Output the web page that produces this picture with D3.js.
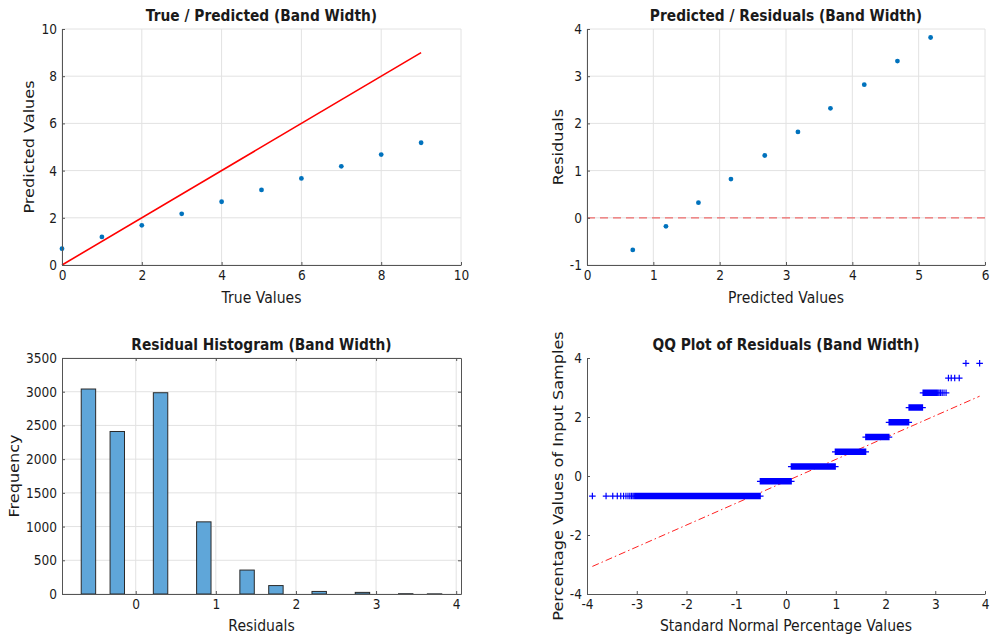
<!DOCTYPE html>
<html><head><meta charset="utf-8">
<script src="https://cdn.jsdelivr.net/npm/d3@7"></script>
<style>
body{margin:0;background:#fff}
svg text{font-family:"DejaVu Sans",sans-serif;fill:#1a1a1a;transform-box:fill-box;transform-origin:center;transform:scaleY(1.15)}
svg text.rot{transform:scaleX(1.15)}
</style></head><body><svg id="c" width="992" height="637"></svg>
<script>
// ---- data ----
const trueValues=[0,1,2,3,4,5,6,7,8,9];
const predictedValues=[0.69,1.19,1.68,2.17,2.68,3.18,3.67,4.18,4.68,5.18];
const residualValues=[-0.68,-0.18,0.32,0.82,1.32,1.82,2.32,2.82,3.32,3.82];
const residualLevels=[-0.68,-0.18,0.32,0.82,1.32,1.82,2.32,2.82,3.32,3.82];
const residualCounts=[3040,2410,2985,1070,355,125,38,24,4,2];
const histBins=25;
const p1Ticks=[0,2,4,6,8,10];
const p2XTicks=[0,1,2,3,4,5,6];
const p2YTicks=[-1,0,1,2,3,4];
const p3XTicks=[0,1,2,3,4];
const p3YTicks=[0,500,1000,1500,2000,2500,3000,3500];
const p4XTicks=[-4,-3,-2,-1,0,1,2,3,4];
const p4YTicks=[-4,-2,0,2,4];

const svg=d3.select("#c");
const fmt=d=>String(d);

function panel(o){
  const g=svg.append("g");
  const x=d3.scaleLinear().domain(o.xd).range([o.l,o.r]);
  const y=d3.scaleLinear().domain(o.yd).range([o.b,o.t]);
  if(o.grid){
    g.append("g").selectAll("line").data(o.xt).join("line")
      .attr("x1",d=>x(d)).attr("x2",d=>x(d)).attr("y1",o.t).attr("y2",o.b)
      .attr("stroke","#e2e2e2").attr("stroke-width",1);
    g.append("g").selectAll("line").data(o.yt).join("line")
      .attr("y1",d=>y(d)).attr("y2",d=>y(d)).attr("x1",o.l).attr("x2",o.r)
      .attr("stroke","#e2e2e2").attr("stroke-width",1);
  }
  const plot=g.append("g");
  g.append("g").attr("transform",`translate(0,${o.b})`)
    .call(d3.axisBottom(x).tickValues(o.xt).tickFormat(fmt).tickSize(-3).tickSizeOuter(0).tickPadding(6));
  g.append("g").attr("transform",`translate(${o.l},0)`)
    .call(d3.axisLeft(y).tickValues(o.yt).tickFormat(fmt).tickSize(-3).tickSizeOuter(0).tickPadding(5));
  if(o.box){
    g.append("g").attr("transform",`translate(0,${o.t})`)
      .call(d3.axisTop(x).tickValues(o.xt).tickFormat("").tickSize(-3).tickSizeOuter(0));
    g.append("g").attr("transform",`translate(${o.r},0)`)
      .call(d3.axisRight(y).tickValues(o.yt).tickFormat("").tickSize(-3).tickSizeOuter(0));
  }
  g.selectAll(".domain").attr("stroke","#555");
  g.selectAll(".tick line").attr("stroke","#555");
  g.selectAll(".tick text").attr("font-size",12.2).attr("fill","#1a1a1a");
  const cx=(o.l+o.r)/2, cy=(o.t+o.b)/2;
  g.append("text").attr("x",cx).attr("y",o.titleY).attr("text-anchor","middle")
    .attr("dominant-baseline","central").attr("font-size",13.8).attr("font-weight","bold").text(o.title);
  g.append("text").attr("x",cx).attr("y",o.xlY).attr("text-anchor","middle")
    .attr("dominant-baseline","central").attr("font-size",14).text(o.xl);
  g.append("g").attr("transform",`translate(${o.ylX},${cy}) rotate(-90)`)
    .append("text").attr("class","rot").attr("text-anchor","middle").attr("dominant-baseline","central")
    .attr("font-size",14).text(o.yl);
  return {x,y,plot};
}

// Panel 1
{
  const p=panel({l:62,r:461,t:29,b:265,xd:[0,10],yd:[0,10],xt:p1Ticks,yt:p1Ticks,grid:true,
    title:"True / Predicted (Band Width)",titleY:16,xl:"True Values",xlY:298,yl:"Predicted Values",ylX:29});
  const ext=d3.extent(trueValues);
  p.plot.append("line").attr("x1",p.x(ext[0])).attr("y1",p.y(ext[0])).attr("x2",p.x(ext[1])).attr("y2",p.y(ext[1]))
    .attr("stroke","#ff0000").attr("stroke-width",1.6);
  p.plot.selectAll("circle").data(trueValues).join("circle")
    .attr("cx",d=>p.x(d)).attr("cy",(d,i)=>p.y(predictedValues[i])).attr("r",2.4).attr("fill","#0072bd");
}
// Panel 2
{
  const p=panel({l:587,r:985,t:29,b:265,xd:[0,6],yd:[-1,4],xt:p2XTicks,yt:p2YTicks,grid:true,
    title:"Predicted / Residuals (Band Width)",titleY:16,xl:"Predicted Values",xlY:298,yl:"Residuals",ylX:558});
  p.plot.append("line").attr("x1",p.x(0)).attr("x2",p.x(6)).attr("y1",p.y(0)).attr("y2",p.y(0))
    .attr("stroke","#ee6a6a").attr("stroke-width",1.2).attr("stroke-dasharray","8,5");
  p.plot.selectAll("circle").data(predictedValues).join("circle")
    .attr("cx",d=>p.x(d)).attr("cy",(d,i)=>p.y(residualValues[i])).attr("r",2.4).attr("fill","#0072bd");
}
// expanded sample
const sample=[];
residualLevels.forEach((v,i)=>{for(let k=0;k<residualCounts[i];k++)sample.push(v);});
sample.sort((a,b)=>a-b);
// Panel 3
{
  const p=panel({l:62,r:461,t:358,b:594,xd:[-0.92,4.06],yd:[0,3500],xt:p3XTicks,yt:p3YTicks,grid:true,box:true,
    title:"Residual Histogram (Band Width)",titleY:345,xl:"Residuals",xlY:626,yl:"Frequency",ylX:14});
  const mn=d3.min(sample), mx=d3.max(sample), w=(mx-mn)/histBins;
  const edges=d3.range(1,histBins).map(k=>mn+k*w);
  const bins=d3.bin().domain([mn,mx]).thresholds(edges)(sample).filter(b=>b.length>0);
  p.plot.selectAll("rect").data(bins).join("rect")
    .attr("x",d=>p.x(d.x0)).attr("width",d=>p.x(d.x1)-p.x(d.x0))
    .attr("y",d=>p.y(d.length)).attr("height",d=>p.y(0)-p.y(d.length))
    .attr("fill","#5fa6d9").attr("stroke","#2a2a2a").attr("stroke-width",1);
}
// inverse normal CDF (Acklam)
function norminv(p){
  const a=[-3.969683028665376e+01,2.209460984245205e+02,-2.759285104469687e+02,1.383577518672690e+02,-3.066479806614716e+01,2.506628277459239e+00];
  const b=[-5.447609879822406e+01,1.615858368580409e+02,-1.556989798598866e+02,6.680131188771972e+01,-1.328068155288572e+01];
  const c=[-7.784894002430293e-03,-3.223964580411365e-01,-2.400758277161838e+00,-2.549732539343734e+00,4.374664141464968e+00,2.938163982698783e+00];
  const d=[7.784695709041462e-03,3.224671290700398e-01,2.445134137142996e+00,3.754408661907416e+00];
  const pl=0.02425;let q,r;
  if(p<pl){q=Math.sqrt(-2*Math.log(p));return (((((c[0]*q+c[1])*q+c[2])*q+c[3])*q+c[4])*q+c[5])/((((d[0]*q+d[1])*q+d[2])*q+d[3])*q+1);}
  if(p>1-pl){q=Math.sqrt(-2*Math.log(1-p));return -(((((c[0]*q+c[1])*q+c[2])*q+c[3])*q+c[4])*q+c[5])/((((d[0]*q+d[1])*q+d[2])*q+d[3])*q+1);}
  q=p-0.5;r=q*q;return (((((a[0]*r+a[1])*r+a[2])*r+a[3])*r+a[4])*r+a[5])*q/(((((b[0]*r+b[1])*r+b[2])*r+b[3])*r+b[4])*r+1);
}
// Panel 4
{
  const p=panel({l:587,r:985,t:358,b:594,xd:[-4,4],yd:[-4,4],xt:p4XTicks,yt:p4YTicks,grid:false,
    title:"QQ Plot of Residuals (Band Width)",titleY:345,xl:"Standard Normal Percentage Values",xlY:626,yl:"Percentage Values of Input Samples",ylX:558});
  const n=sample.length;
  const qx=sample.map((v,i)=>norminv((i+0.5)/n));
  const q1=d3.quantile(sample,0.25), q3=d3.quantile(sample,0.75);
  const z1=norminv(0.25), z3=norminv(0.75);
  const slope=(q3-q1)/(z3-z1), icpt=q1-slope*z1;
  const xmin=qx[0], xmax=qx[n-1];
  p.plot.append("line").attr("x1",p.x(xmin)).attr("y1",p.y(icpt+slope*xmin)).attr("x2",p.x(xmax)).attr("y2",p.y(icpt+slope*xmax))
    .attr("stroke","#ff2020").attr("stroke-width",1).attr("stroke-dasharray","7,3,1.5,3");
  const s=3.3;
  let path="";
  sample.forEach((v,i)=>{const px=p.x(qx[i]),py=p.y(v);path+=`M${px-s},${py}h${2*s}M${px},${py-s}v${2*s}`;});
  p.plot.append("path").attr("d",path).attr("stroke","#0000ff").attr("stroke-width",1.2).attr("fill","none");
}
</script></body></html>
